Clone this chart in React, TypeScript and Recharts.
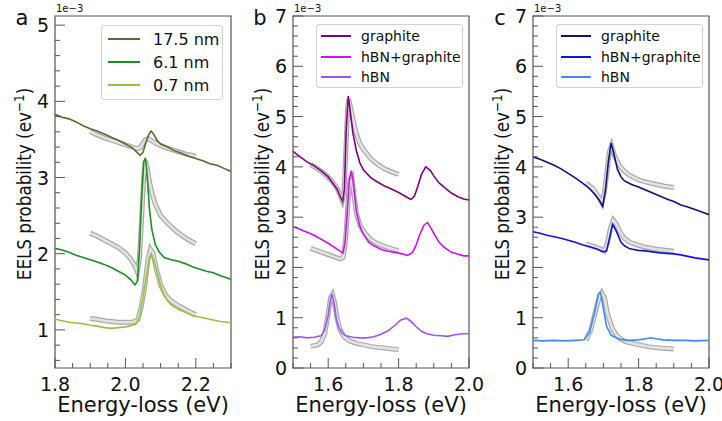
import React from "react";
import { LineChart, Line, XAxis, YAxis, ReferenceArea, Legend } from "recharts";

type Pt = [number, number];

// values in units of 1e-3 eV^-1
// ---- panel a ----
const a175: Pt[] = [
  [1.8, 3.83], [1.82, 3.79], [1.84, 3.77], [1.86, 3.73], [1.88, 3.68], [1.9, 3.64], [1.92, 3.61],
  [1.94, 3.57], [1.96, 3.53], [1.98, 3.49], [2.0, 3.44], [2.02, 3.39], [2.035, 3.32], [2.042, 3.29],
  [2.05, 3.33], [2.058, 3.46], [2.066, 3.56], [2.073, 3.61], [2.08, 3.57], [2.09, 3.49], [2.1, 3.44],
  [2.12, 3.4], [2.14, 3.35], [2.16, 3.32], [2.18, 3.28], [2.2, 3.25], [2.22, 3.22], [2.24, 3.18],
  [2.26, 3.16], [2.28, 3.12], [2.3, 3.08],
];
const a175Fit: Pt[] = [
  [1.9, 3.6], [1.92, 3.56], [1.94, 3.52], [1.96, 3.49], [1.98, 3.46], [2.0, 3.43], [2.02, 3.4],
  [2.035, 3.38], [2.042, 3.39], [2.05, 3.45], [2.058, 3.5], [2.065, 3.51], [2.075, 3.48], [2.09, 3.44],
  [2.11, 3.4], [2.13, 3.37], [2.15, 3.34], [2.17, 3.31], [2.19, 3.29], [2.2, 3.28],
];
const a61: Pt[] = [
  [1.8, 2.07], [1.82, 2.05], [1.84, 2.02], [1.86, 1.98], [1.88, 1.95], [1.9, 1.92], [1.92, 1.89],
  [1.94, 1.86], [1.96, 1.82], [1.98, 1.77], [2.0, 1.72], [2.015, 1.66], [2.027, 1.59], [2.034, 1.64],
  [2.04, 2.05], [2.046, 2.7], [2.052, 3.2], [2.057, 3.26], [2.062, 3.02], [2.068, 2.6], [2.075, 2.32],
  [2.085, 2.12], [2.095, 2.03], [2.11, 1.95], [2.13, 1.92], [2.15, 1.9], [2.17, 1.87], [2.19, 1.83],
  [2.21, 1.8], [2.23, 1.77], [2.25, 1.75], [2.27, 1.71], [2.29, 1.68], [2.3, 1.66],
];
const a61Fit: Pt[] = [
  [1.9, 2.27], [1.92, 2.23], [1.94, 2.18], [1.96, 2.13], [1.98, 2.08], [2.0, 2.01], [2.015, 1.93],
  [2.027, 1.84], [2.034, 1.76], [2.04, 1.95], [2.046, 2.45], [2.052, 3.0], [2.057, 3.22], [2.062, 3.12],
  [2.068, 2.95], [2.075, 2.8], [2.085, 2.65], [2.1, 2.5], [2.12, 2.4], [2.14, 2.31], [2.16, 2.24],
  [2.18, 2.18], [2.2, 2.13],
];
const a07: Pt[] = [
  [1.8, 1.14], [1.82, 1.12], [1.84, 1.1], [1.86, 1.09], [1.88, 1.08], [1.9, 1.06], [1.92, 1.05],
  [1.94, 1.03], [1.96, 1.02], [1.98, 1.03], [2.0, 1.04], [2.02, 1.06], [2.03, 1.08], [2.04, 1.17],
  [2.05, 1.42], [2.06, 1.72], [2.068, 1.95], [2.073, 2.0], [2.08, 1.93], [2.09, 1.76], [2.1, 1.58],
  [2.11, 1.46], [2.12, 1.38], [2.13, 1.33], [2.15, 1.27], [2.17, 1.23], [2.19, 1.19], [2.21, 1.17],
  [2.23, 1.15], [2.25, 1.13], [2.27, 1.11], [2.29, 1.1], [2.3, 1.09],
];
const a07Fit: Pt[] = [
  [1.9, 1.15], [1.92, 1.14], [1.94, 1.12], [1.96, 1.11], [1.98, 1.1], [2.0, 1.1], [2.02, 1.1],
  [2.035, 1.13], [2.045, 1.3], [2.055, 1.57], [2.064, 1.92], [2.071, 2.06], [2.078, 2.01], [2.088, 1.8],
  [2.1, 1.59], [2.115, 1.45], [2.13, 1.38], [2.15, 1.32], [2.17, 1.27], [2.19, 1.22], [2.2, 1.2],
];

// ---- panel b ----
const bGr: Pt[] = [
  [1.5, 4.31], [1.52, 4.2], [1.54, 4.1], [1.56, 4.02], [1.58, 3.92], [1.6, 3.8], [1.615, 3.66],
  [1.625, 3.56], [1.635, 3.4], [1.641, 3.31], [1.646, 3.55], [1.651, 4.7], [1.657, 5.41], [1.662, 5.15],
  [1.67, 4.68], [1.68, 4.32], [1.69, 4.08], [1.7, 3.94], [1.72, 3.79], [1.74, 3.7], [1.76, 3.62],
  [1.78, 3.56], [1.8, 3.49], [1.82, 3.41], [1.835, 3.35], [1.845, 3.42], [1.855, 3.62], [1.865, 3.85],
  [1.877, 4.0], [1.89, 3.93], [1.9, 3.82], [1.915, 3.68], [1.93, 3.59], [1.95, 3.48], [1.97, 3.4],
  [1.985, 3.36], [2.0, 3.34],
];
const bGrFit: Pt[] = [
  [1.55, 4.05], [1.57, 3.96], [1.59, 3.86], [1.61, 3.72], [1.625, 3.58], [1.635, 3.42], [1.64, 3.33],
  [1.645, 3.5], [1.65, 4.3], [1.655, 5.15], [1.658, 5.35], [1.663, 5.2], [1.67, 4.95], [1.68, 4.66],
  [1.69, 4.46], [1.7, 4.35], [1.72, 4.17], [1.74, 4.05], [1.76, 3.96], [1.78, 3.9], [1.8, 3.85],
];
const bMix: Pt[] = [
  [1.5, 2.81], [1.52, 2.76], [1.54, 2.7], [1.56, 2.64], [1.58, 2.56], [1.6, 2.48], [1.62, 2.39],
  [1.635, 2.32], [1.642, 2.29], [1.648, 2.5], [1.654, 3.1], [1.66, 3.72], [1.665, 3.92], [1.67, 3.75],
  [1.68, 3.12], [1.69, 2.82], [1.7, 2.66], [1.715, 2.5], [1.73, 2.43], [1.75, 2.36], [1.77, 2.32],
  [1.79, 2.3], [1.81, 2.27], [1.825, 2.24], [1.84, 2.3], [1.85, 2.45], [1.86, 2.65], [1.872, 2.84],
  [1.882, 2.89], [1.89, 2.8], [1.9, 2.68], [1.915, 2.5], [1.93, 2.4], [1.95, 2.3], [1.97, 2.26],
  [1.985, 2.23], [2.0, 2.23],
];
const bMixFit: Pt[] = [
  [1.55, 2.38], [1.57, 2.33], [1.59, 2.28], [1.61, 2.23], [1.625, 2.19], [1.635, 2.17], [1.642, 2.2],
  [1.648, 2.45], [1.652, 2.8], [1.656, 3.28], [1.662, 3.75], [1.667, 3.8], [1.673, 3.45], [1.68, 3.08],
  [1.69, 2.84], [1.7, 2.72], [1.72, 2.56], [1.74, 2.47], [1.76, 2.42], [1.78, 2.37], [1.8, 2.33],
];
const bHbn: Pt[] = [
  [1.5, 0.61], [1.52, 0.62], [1.54, 0.6], [1.56, 0.61], [1.58, 0.64], [1.59, 0.75], [1.6, 1.05],
  [1.606, 1.35], [1.611, 1.47], [1.617, 1.28], [1.623, 0.98], [1.63, 0.8], [1.64, 0.69], [1.65, 0.64],
  [1.67, 0.61], [1.69, 0.6], [1.71, 0.6], [1.73, 0.62], [1.75, 0.67], [1.77, 0.74], [1.79, 0.85],
  [1.805, 0.95], [1.822, 0.99], [1.835, 0.93], [1.85, 0.82], [1.865, 0.73], [1.88, 0.68], [1.9, 0.65],
  [1.92, 0.64], [1.94, 0.63], [1.96, 0.66], [1.98, 0.68], [2.0, 0.68],
];
const bHbnFit: Pt[] = [
  [1.55, 0.43], [1.57, 0.46], [1.58, 0.52], [1.59, 0.68], [1.6, 1.08], [1.607, 1.4], [1.612, 1.46],
  [1.618, 1.3], [1.625, 1.0], [1.633, 0.77], [1.645, 0.62], [1.66, 0.54], [1.68, 0.49], [1.7, 0.46],
  [1.72, 0.43], [1.74, 0.41], [1.76, 0.4], [1.78, 0.38], [1.8, 0.37],
];

// ---- panel c ----
const cGr: Pt[] = [
  [1.5, 4.2], [1.52, 4.15], [1.54, 4.09], [1.56, 4.03], [1.58, 3.96], [1.6, 3.87], [1.62, 3.78],
  [1.64, 3.68], [1.66, 3.57], [1.675, 3.46], [1.688, 3.34], [1.698, 3.22], [1.706, 3.55], [1.714, 4.1],
  [1.722, 4.47], [1.729, 4.28], [1.74, 3.95], [1.75, 3.8], [1.76, 3.72], [1.78, 3.65], [1.8, 3.6],
  [1.82, 3.54], [1.84, 3.48], [1.86, 3.42], [1.88, 3.36], [1.9, 3.31], [1.92, 3.24], [1.94, 3.2],
  [1.96, 3.15], [1.98, 3.1], [2.0, 3.05],
];
const cGrFit: Pt[] = [
  [1.65, 3.68], [1.67, 3.57], [1.685, 3.42], [1.696, 3.28], [1.703, 3.5], [1.71, 3.9], [1.717, 4.3],
  [1.723, 4.42], [1.731, 4.23], [1.745, 4.03], [1.76, 3.91], [1.775, 3.83], [1.8, 3.74], [1.82, 3.7],
  [1.845, 3.66], [1.87, 3.62], [1.9, 3.59],
];
const cMix: Pt[] = [
  [1.5, 2.71], [1.52, 2.68], [1.54, 2.64], [1.56, 2.61], [1.58, 2.58], [1.6, 2.54], [1.62, 2.5],
  [1.64, 2.45], [1.66, 2.41], [1.68, 2.37], [1.7, 2.31], [1.709, 2.33], [1.717, 2.57], [1.726, 2.86],
  [1.736, 2.73], [1.75, 2.5], [1.76, 2.43], [1.775, 2.37], [1.8, 2.34], [1.82, 2.33], [1.84, 2.31],
  [1.86, 2.29], [1.88, 2.28], [1.9, 2.27], [1.92, 2.25], [1.94, 2.22], [1.96, 2.19], [1.98, 2.17],
  [2.0, 2.15],
];
const cMixFit: Pt[] = [
  [1.65, 2.47], [1.68, 2.4], [1.703, 2.33], [1.712, 2.5], [1.72, 2.78], [1.728, 2.94], [1.736, 2.87],
  [1.75, 2.67], [1.76, 2.58], [1.775, 2.5], [1.8, 2.44], [1.82, 2.4], [1.85, 2.36], [1.875, 2.34],
  [1.9, 2.32],
];
const cHbn: Pt[] = [
  [1.5, 0.55], [1.53, 0.54], [1.56, 0.55], [1.59, 0.54], [1.62, 0.55], [1.645, 0.56], [1.66, 0.7],
  [1.675, 1.1], [1.686, 1.47], [1.692, 1.5], [1.7, 1.17], [1.709, 0.83], [1.722, 0.65], [1.745, 0.57],
  [1.77, 0.55], [1.8, 0.56], [1.82, 0.58], [1.835, 0.6], [1.85, 0.58], [1.87, 0.56], [1.9, 0.55],
  [1.93, 0.55], [1.96, 0.54], [2.0, 0.55],
];
const cHbnFit: Pt[] = [
  [1.65, 0.55], [1.665, 0.77], [1.679, 1.17], [1.689, 1.43], [1.695, 1.5], [1.703, 1.4], [1.712, 1.07],
  [1.726, 0.77], [1.74, 0.63], [1.75, 0.57], [1.765, 0.52], [1.783, 0.49], [1.81, 0.45], [1.83, 0.42],
  [1.86, 0.4], [1.9, 0.38],
];

// ticks
const aXTicks = [1.8, 1.85, 1.9, 1.95, 2.0, 2.05, 2.1, 2.15, 2.2, 2.25, 2.3];
const aXLabels = [1.8, 2.0, 2.2];
const aYTicks = [
  0.6, 0.8, 1.0, 1.2, 1.4, 1.6, 1.8, 2.0, 2.2, 2.4, 2.6, 2.8, 3.0, 3.2, 3.4, 3.6, 3.8, 4.0, 4.2, 4.4,
  4.6, 4.8, 5.0,
];
const aYLabels = [1, 2, 3, 4, 5];
const bcXTicks = [1.5, 1.55, 1.6, 1.65, 1.7, 1.75, 1.8, 1.85, 1.9, 1.95, 2.0];
const bcXLabels = [1.6, 1.8, 2.0];
const bcYTicks = [
  0, 0.2, 0.4, 0.6, 0.8, 1.0, 1.2, 1.4, 1.6, 1.8, 2.0, 2.2, 2.4, 2.6, 2.8, 3.0, 3.2, 3.4, 3.6, 3.8,
  4.0, 4.2, 4.4, 4.6, 4.8, 5.0, 5.2, 5.4, 5.6, 5.8, 6.0, 6.2, 6.4, 6.6, 6.8, 7.0,
];
const bcYLabels = [0, 1, 2, 3, 4, 5, 6, 7];

const FONT = "'DejaVu Sans', Verdana, sans-serif";
const FRAME = "#555";
const TXT = "#111";

interface Series {
  name: string;
  color: string;
  data: Pt[];
  fit: Pt[];
}

interface LegendCfg {
  left: number;
  top: number;
  width: number;
  height: number;
  font: number;
  rowH: number;
  padTop: number;
  lineLeft: number;
  lineLen: number;
  gap: number;
}

interface PanelCfg {
  letter: string;
  left: number;
  width: number;
  margin: { top: number; right: number; bottom: number; left: number };
  xDomain: [number, number];
  yDomain: [number, number];
  xTicks: number[];
  xLabels: number[];
  yTicks: number[];
  yLabels: number[];
  series: Series[];
  legend: LegendCfg;
}

const toRows = (pts: Pt[]) => pts.map(([x, y]) => ({ x, y }));
const near = (arr: number[], v: number) => arr.some((m) => Math.abs(m - v) < 1e-6);

const makeYTick = (labels: number[]) => (props: any) => {
  const { x, y, payload } = props;
  const major = near(labels, payload.value);
  return (
    <g>
      <line x1={x} x2={x + (major ? 10 : 5)} y1={y} y2={y} stroke={FRAME} strokeWidth={1} />
      {major && (
        <text x={x - 6} y={y} textAnchor="end" dominantBaseline="central" fontSize={19} fill={TXT} fontFamily={FONT}>
          {Math.round(payload.value)}
        </text>
      )}
    </g>
  );
};

const makeXTick = (labels: number[]) => (props: any) => {
  const { x, y, payload } = props;
  const major = near(labels, payload.value);
  return (
    <g>
      <line x1={x} x2={x} y1={y} y2={y - (major ? 10 : 5)} stroke={FRAME} strokeWidth={1} />
      {major && (
        <text x={x} y={y + 16} textAnchor="middle" dominantBaseline="central" fontSize={19} fill={TXT} fontFamily={FONT}>
          {payload.value.toFixed(1)}
        </text>
      )}
    </g>
  );
};

function LegendBox({ cfg, series }: { cfg: LegendCfg; series: Series[] }) {
  return (
    <div
      style={{
        width: cfg.width,
        height: cfg.height,
        boxSizing: "border-box",
        border: "1px solid #d0d0d0",
        borderRadius: 3,
        background: "rgba(255,255,255,0.85)",
        paddingTop: cfg.padTop,
        fontFamily: FONT,
        fontSize: cfg.font,
        color: TXT,
      }}
    >
      {series.map((s) => (
        <div key={s.name} style={{ height: cfg.rowH, display: "flex", alignItems: "center" }}>
          <span style={{ marginLeft: cfg.lineLeft, width: cfg.lineLen, height: 2, background: s.color, display: "inline-block" }} />
          <span style={{ marginLeft: cfg.gap, whiteSpace: "nowrap" }}>{s.name}</span>
        </div>
      ))}
    </div>
  );
}

function Panel({ cfg }: { cfg: PanelCfg }) {
  const { margin } = cfg;
  // axes take 1px each (a zero-sized axis is not drawn)
  const chartMargin = { top: margin.top, right: margin.right, bottom: margin.bottom - 1, left: margin.left - 1 };
  const plotLeft = cfg.left + margin.left;
  const plotRight = cfg.left + cfg.width - margin.right;
  return (
    <>
      <div style={{ position: "absolute", left: cfg.left, top: 0 }}>
        <LineChart width={cfg.width} height={421} margin={chartMargin}>
          <XAxis
            xAxisId="b"
            type="number"
            dataKey="x"
            domain={cfg.xDomain}
            allowDataOverflow
            ticks={cfg.xTicks}
            interval={0}
            tick={makeXTick(cfg.xLabels)}
            tickLine={false}
            axisLine={false}
            tickSize={0}
            tickMargin={0}
            height={1}
          />
          <YAxis
            yAxisId="l"
            type="number"
            domain={cfg.yDomain}
            allowDataOverflow
            ticks={cfg.yTicks}
            interval={0}
            tick={makeYTick(cfg.yLabels)}
            tickLine={false}
            axisLine={false}
            tickSize={0}
            tickMargin={0}
            width={1}
          />
          {cfg.series.map((s) => (
            <Line
              key={s.name + "-fo"}
              xAxisId="b"
              yAxisId="l"
              data={toRows(s.fit)}
              dataKey="y"
              stroke="#a8a8a8"
              strokeWidth={5}
              dot={false}
              legendType="none"
              isAnimationActive={false}
            />
          ))}
          {cfg.series.map((s) => (
            <Line
              key={s.name + "-fi"}
              xAxisId="b"
              yAxisId="l"
              data={toRows(s.fit)}
              dataKey="y"
              stroke="#e2e2e2"
              strokeWidth={2.6}
              dot={false}
              legendType="none"
              isAnimationActive={false}
            />
          ))}
          {cfg.series.map((s) => (
            <Line
              key={s.name}
              name={s.name}
              xAxisId="b"
              yAxisId="l"
              data={toRows(s.data)}
              dataKey="y"
              stroke={s.color}
              strokeWidth={1.6}
              dot={false}
              isAnimationActive={false}
            />
          ))}
          <ReferenceArea
            xAxisId="b"
            yAxisId="l"
            x1={cfg.xDomain[0]}
            x2={cfg.xDomain[1]}
            y1={cfg.yDomain[0]}
            y2={cfg.yDomain[1]}
            fill="none"
            stroke={FRAME}
            strokeWidth={1.2}
          />
          <Legend
            layout="vertical"
            align="center"
            verticalAlign="middle"
            wrapperStyle={{
              left: cfg.legend.left - cfg.left,
              top: cfg.legend.top,
              width: cfg.legend.width,
              height: cfg.legend.height,
            }}
            content={() => <LegendBox cfg={cfg.legend} series={cfg.series} />}
          />
        </LineChart>
      </div>
      <div style={{ position: "absolute", left: plotLeft - 33, top: 18, transform: "translate(-50%, -50%)", fontSize: 21, fontFamily: FONT, color: TXT }}>
        {cfg.letter}
      </div>
      <div style={{ position: "absolute", left: plotLeft + 1, top: 3, fontSize: 10, fontFamily: FONT, color: TXT }}>
        1e−3
      </div>
      <div
        style={{
          position: "absolute",
          left: plotLeft - 31,
          top: 184,
          transform: "translate(-50%, -50%) rotate(-90deg) scaleX(0.86)",
          whiteSpace: "nowrap",
          fontSize: 19.5,
          fontFamily: FONT,
          color: TXT,
        }}
      >
        EELS probability (ev<sup style={{ fontSize: 14, verticalAlign: "7px", lineHeight: 0 }}>−1</sup>)
      </div>
      <div
        style={{
          position: "absolute",
          left: (plotLeft + plotRight) / 2,
          top: 405,
          transform: "translate(-50%, -50%)",
          whiteSpace: "nowrap",
          fontSize: 21,
          fontFamily: FONT,
          color: TXT,
        }}
      >
        Energy-loss (eV)
      </div>
    </>
  );
}

const legendA: LegendCfg = { left: 101, top: 25, width: 122, height: 75, font: 16, rowH: 23, padTop: 1.5, lineLeft: 6, lineLen: 32, gap: 13 };
const legendB: LegendCfg = { left: 316, top: 24, width: 147, height: 64, font: 14, rowH: 20.5, padTop: 1, lineLeft: 4, lineLen: 30, gap: 10 };
const legendC: LegendCfg = { ...legendB, left: 556 };

const panels: PanelCfg[] = [
  {
    letter: "a",
    left: 0,
    width: 260,
    margin: { top: 16, right: 29, bottom: 53, left: 55 },
    xDomain: [1.8, 2.3],
    yDomain: [0.5, 5.12],
    xTicks: aXTicks,
    xLabels: aXLabels,
    yTicks: aYTicks,
    yLabels: aYLabels,
    series: [
      { name: "17.5 nm", color: "#556b2f", data: a175, fit: a175Fit },
      { name: "6.1 nm", color: "#1f8f1f", data: a61, fit: a61Fit },
      { name: "0.7 nm", color: "#94c53a", data: a07, fit: a07Fit },
    ],
    legend: legendA,
  },
  {
    letter: "b",
    left: 240,
    width: 260,
    margin: { top: 16, right: 31, bottom: 53, left: 53 },
    xDomain: [1.5, 2.0],
    yDomain: [0, 7],
    xTicks: bcXTicks,
    xLabels: bcXLabels,
    yTicks: bcYTicks,
    yLabels: bcYLabels,
    series: [
      { name: "graphite", color: "#800080", data: bGr, fit: bGrFit },
      { name: "hBN+graphite", color: "#d010ee", data: bMix, fit: bMixFit },
      { name: "hBN", color: "#9a55ff", data: bHbn, fit: bHbnFit },
    ],
    legend: legendB,
  },
  {
    letter: "c",
    left: 480,
    width: 242,
    margin: { top: 16, right: 13, bottom: 53, left: 53 },
    xDomain: [1.5, 2.0],
    yDomain: [0, 7],
    xTicks: bcXTicks,
    xLabels: bcXLabels,
    yTicks: bcYTicks,
    yLabels: bcYLabels,
    series: [
      { name: "graphite", color: "#101080", data: cGr, fit: cGrFit },
      { name: "hBN+graphite", color: "#1212e0", data: cMix, fit: cMixFit },
      { name: "hBN", color: "#3a8cff", data: cHbn, fit: cHbnFit },
    ],
    legend: legendC,
  },
];

export default function App() {
  return (
    <div style={{ position: "absolute", left: 0, top: 0, width: 722, height: 421, background: "#fff", overflow: "hidden" }}>
      {panels.map((p) => (
        <Panel key={p.letter} cfg={p} />
      ))}
    </div>
  );
}
